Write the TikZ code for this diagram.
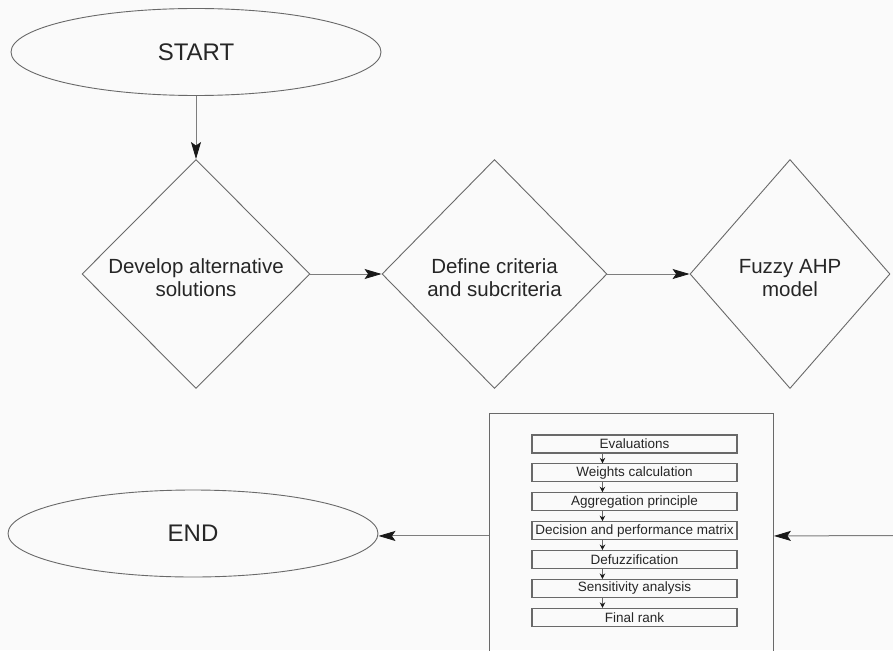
\documentclass[tikz,border=0pt]{standalone}
\usepackage{fontspec}
\setmainfont{Liberation Sans}
\usetikzlibrary{shapes.geometric,arrows.meta}
\definecolor{bgc}{RGB}{250,250,250}
\definecolor{linec}{RGB}{105,105,105}
\definecolor{connc}{RGB}{125,125,125}
\definecolor{txtc}{RGB}{38,38,38}
\definecolor{headc}{RGB}{25,25,25}
\begin{document}
\begin{tikzpicture}[x=1pt,y=-1pt,
  shapeline/.style={draw=linec,line width=0.9pt},
  oval/.style={shapeline,ellipse,minimum width=370pt,minimum height=87pt,inner sep=0pt,text=txtc,font=\fontsize{24}{26}\selectfont},
  dia/.style={shapeline,diamond,inner sep=0pt,minimum height=229pt},
  diatext/.style={text=txtc,align=center,inner sep=0pt,font=\fontsize{20.5}{23}\selectfont},
  stepbox/.style={draw=linec,line width=1.1pt,minimum width=205pt,minimum height=18pt,inner sep=0pt,text=txtc,font=\fontsize{13.5}{15}\selectfont},
  conn/.style={draw=connc,line width=1pt,-{Stealth[length=17pt,width=10pt,inset=3.5pt,line width=0.8pt,color=headc,fill=headc]}},
  smallarr/.style={draw=linec,line width=0.9pt,-{Stealth[length=5.5pt,width=5.5pt,color=headc,fill=headc]}}
]
\fill[bgc] (0,0) rectangle (893,650);
\useasboundingbox (0,0) rectangle (893,650);
\clip (0,0) rectangle (893,650);

\node[oval] (start) at (196,52) {START};
\node[oval] (end) at (193,533.5) {END};

\node[dia,minimum width=228pt] (d1) at (196,274) {};
\node[diatext] (t1) at ([yshift=-4pt]d1.center) {Develop alternative\\solutions};
\node[dia,minimum width=225pt] (d2) at (494.5,274) {};
\node[diatext] (t2) at ([yshift=-4pt]d2.center) {Define criteria\\and subcriteria};
\node[dia,minimum width=200pt] (d3) at (790,274) {};
\node[diatext] (t3) at ([yshift=-4pt]d3.center) {Fuzzy AHP\\model};

\node[draw=linec,line width=0.9pt,minimum width=284pt,minimum height=245pt,inner sep=0pt,anchor=north west] (box) at (489,413) {};

\node[stepbox] (s1) at (634.5,444) {Evaluations};
\node[stepbox] (s2) at (634.5,472.9) {Weights calculation};
\node[stepbox] (s3) at (634.5,501.8) {Aggregation principle};
\node[stepbox] (s4) at (634.5,530.7) {Decision and performance matrix};
\node[stepbox] (s5) at (634.5,559.6) {Defuzzification};
\node[stepbox] (s6) at (634.5,588.5) {Sensitivity analysis};
\node[stepbox] (s7) at (634.5,617.4) {Final rank};

\foreach \a/\b in {s1/s2,s2/s3,s3/s4,s4/s5,s5/s6,s6/s7}{
  \draw[smallarr] ([xshift=71pt]\a.south west) -- ([xshift=71pt]\b.north west);
}

\coordinate (rin) at (893,535.5);
\draw[conn] (start.south) -- (d1.north);
\draw[conn] (d1.east) -- (d2.west);
\draw[conn] (d2.east) -- (d3.west);
\draw[conn] (rin) -- (box.east);
\draw[conn] (box.west) -- (box.west -| end.east);
\end{tikzpicture}
\end{document}
